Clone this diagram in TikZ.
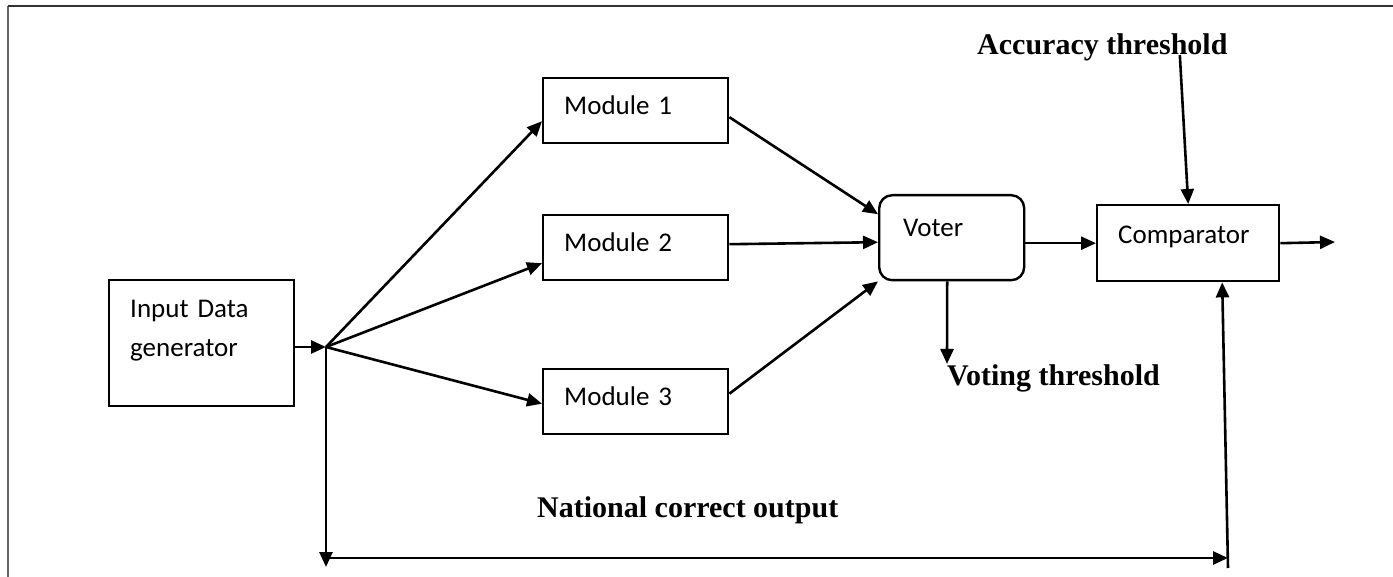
\documentclass[tikz,border=0pt]{standalone}
\usepackage{fontspec}
\setmainfont{Liberation Serif}
\newfontfamily\calibfont{Carlito}
\usetikzlibrary{arrows.meta}

\begin{document}
\begin{tikzpicture}[x=1pt,y=-1pt,
		box/.style={draw, line width=2.4pt, inner ysep=0pt, anchor=north west, align=left, font=\calibfont\fontsize{27pt}{39pt}\selectfont},
		modbox/.style={box, inner xsep=21pt, text width=143pt, text height=36pt, text depth=29pt},
		lbl/.style={inner sep=0pt, anchor=base west, font=\bfseries\fontsize{30pt}{36pt}\selectfont},
		arr/.style={line width=2.6pt, -{Triangle[length=15pt,width=13pt]}}]

		\useasboundingbox (0,0) rectangle (1393,577);
		\draw[line width=2.4pt, black!60] (8,577) -- (8,6);
		\draw[line width=2.4pt, black!80] (8,6) -- (1393,6);

		\node[modbox, text height=37pt, text depth=89pt] (gen) at (108,279) {Input Data\\generator};
		\node[modbox] (m1) at (542,77) {Module 1};
		\node[modbox] (m2) at (542,214) {Module 2};
		\node[modbox] (m3) at (542,368) {Module 3};
		\node[box, rounded corners=13pt, inner xsep=24pt, text width=97pt, text height=41pt, text depth=44pt] (voter) at (878,194) {Voter};
		\node[modbox, text width=140pt, text height=38pt, text depth=38pt] (comp) at (1096,204) {Comparator};

		\node[lbl] (acc) at (977,55) {Accuracy threshold};
		\node[lbl] (vote) at (947,385) {Voting threshold};
		\node[lbl] (nat) at (537,517) {National correct output};

		\coordinate (split) at (326,347);
		\coordinate (out) at (1335,242);
		\coordinate (down) at (326,567);
		\coordinate (bl) at (326,558);
		\coordinate (br) at (1228,558);
		\coordinate (up) at (1228,568);

		\draw[arr] (gen.east |- split) -- (split);
		\draw[arr] (split) -- ([yshift=-10.5pt]m1.west);
		\draw[arr] (split) -- ([yshift=-15.5pt]m2.west);
		\draw[arr] (split) -- ([yshift=-2pt]m3.west);

		\draw[arr] ([yshift=-6.5pt]m1.east) -- ([yshift=23.5pt]voter.west);
		\draw[arr] ([yshift=3.5pt]m2.east) -- ([yshift=-4.5pt]voter.west);
		\draw[arr] ([yshift=8pt]m3.east) -- (voter.south west);

		\draw[arr] (voter.east |- comp.west) -- (comp.west);
		\draw[arr] (comp.east) -- (out);
		\draw[arr] ([xshift=77.5pt]acc.base) -- (comp.north);
		\draw[arr] ([xshift=-4.5pt]voter.south) -- (vote.north west);

		\draw[arr] (split) -- (down);
		\draw[arr] (bl) -- (br);
		\draw[arr] (up) -- ([xshift=34pt]comp.south);

	\end{tikzpicture}
\end{document}
